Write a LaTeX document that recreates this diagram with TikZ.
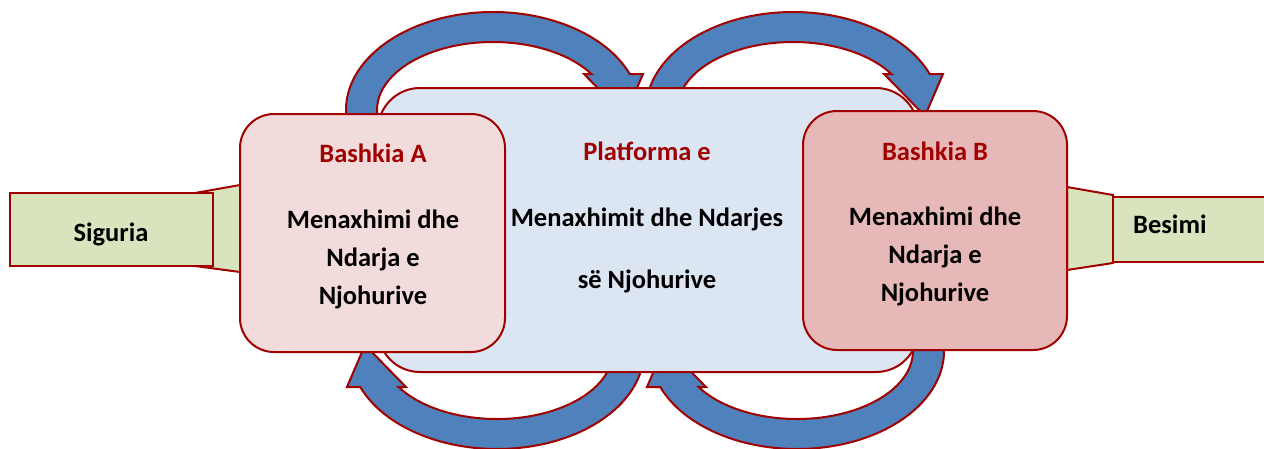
\documentclass[tikz,border=0pt]{standalone}
\usepackage{fontspec}
\setmainfont{Carlito}
\definecolor{edge}{RGB}{160,0,0}
\definecolor{titlered}{RGB}{160,0,0}
\definecolor{platfill}{RGB}{220,230,242}
\definecolor{afill}{RGB}{242,220,219}
\definecolor{bfill}{RGB}{230,185,184}
\definecolor{greenfill}{RGB}{215,228,189}
\definecolor{arrowblue}{RGB}{79,129,189}
\tikzset{
  arrowshape/.style={draw=edge, fill=arrowblue, line width=2pt, line join=miter},
  panel/.style={draw=edge, line width=2pt, rectangle, inner sep=0pt, outer sep=0pt},
  link/.style={draw=edge, fill=greenfill, line width=2pt},
  lbl/.style={anchor=base, inner sep=0pt, font=\fontsize{26.5}{32}\selectfont\bfseries},
  title/.style={lbl, text=titlered}
}
% curved block arrow over the top, running left to right (#1,#2 = ellipse centre)
\newcommand{\overarrow}[2]{%
  \draw[arrowshape] ([shift={(175:147 and 98)}]#1,#2)
    arc[start angle=175, end angle=338.45, x radius=147, y radius=98]
    -- (#1+150,#2-36) -- (#1+132,#2+6) -- (#1+91,#2-36)
    -- ([shift={(328.04:116 and 68)}]#1,#2)
    arc[start angle=328.04, end angle=175, x radius=116, y radius=68] -- cycle;}
% curved block arrow underneath, running right to left
\newcommand{\underarrow}[2]{%
  \draw[arrowshape] ([shift={(355:147 and 98)}]#1,#2)
    arc[start angle=355, end angle=518.45, x radius=147, y radius=98]
    -- (#1-150,#2+36) -- (#1-132,#2-6) -- (#1-91,#2+36)
    -- ([shift={(508.04:116 and 68)}]#1,#2)
    arc[start angle=508.04, end angle=355, x radius=116, y radius=68] -- cycle;}
\begin{document}
\begin{tikzpicture}[x=1pt, y=-1pt]
\useasboundingbox (0,0) rectangle (1264,448);
\clip (0,0) rectangle (1264,448);

% circulation arrows
\overarrow{493}{110}
\overarrow{793}{110}
\underarrow{497}{351}
\underarrow{797}{351}

% shared platform
\node[panel, fill=platfill, rounded corners=42pt, minimum width=540pt, minimum height=284pt] (plat) at (648,230) {};

% links to the side boxes
\draw[link] (195,193) -- (240,185) -- (240,272) -- (195,266) -- cycle;
\draw[link] (1067,187) -- (1113,195) -- (1113,263) -- (1067,270) -- cycle;

% the two municipalities
\node[panel, fill=afill, rounded corners=34pt, minimum width=265pt, minimum height=238pt] (bashA) at (372.5,233) {};
\node[panel, fill=bfill, rounded corners=34pt, minimum width=264pt, minimum height=239pt] (bashB) at (935,230.5) {};

% side boxes
\node[panel, fill=greenfill, minimum width=203pt, minimum height=73pt] (sig) at (111.5,229.5) {};
\node[panel, fill=greenfill, minimum width=167pt, minimum height=65pt] (bes) at (1196.5,229.5) {};

% labels
\node[title] (tA) at (373,162) {Bashkia A};
\node[lbl] (tA1) at (373,228) {Menaxhimi dhe};
\node[lbl] (tA2) at (373,266) {Ndarja e};
\node[lbl] (tA3) at (373,304) {Njohurive};

\node[title] (tP) at (647,160) {Platforma e};
\node[lbl] (tP1) at (647,226) {Menaxhimit dhe Ndarjes};
\node[lbl] (tP2) at (647,288) {së Njohurive};

\node[title] (tB) at (935,160) {Bashkia B};
\node[lbl] (tB1) at (935,225) {Menaxhimi dhe};
\node[lbl] (tB2) at (935,263) {Ndarja e};
\node[lbl] (tB3) at (935,301) {Njohurive};

\node[lbl] (tS) at (111,241) {Siguria};
\node[lbl, anchor=base west] (tBe) at (1133,233) {Besimi};
\end{tikzpicture}
\end{document}
